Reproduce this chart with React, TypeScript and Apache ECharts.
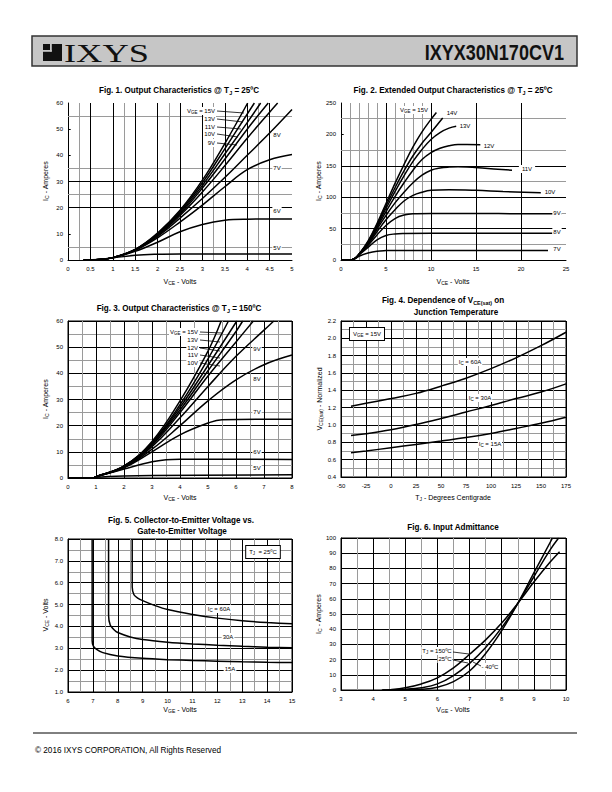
import React, { useEffect, useRef } from 'react';
import * as echarts from 'echarts';

// ---------- Fig. 1 : Output characteristics @ 25C (VCE V, IC A) ----------
const f1_15V = [[0.35,0],[0.7,0.2],[1,0.9],[1.5,4],[2,10.3],[2.5,19],[3,30.5],[3.5,44.5],[4.01,60]];
const f1_13V = [[0.35,0],[0.7,0.2],[1,0.9],[1.5,4],[2,10],[2.5,18.5],[3,29.5],[3.5,42.5],[4.16,60]];
const f1_11V = [[0.35,0],[0.7,0.2],[1,0.9],[1.5,4],[2,9.8],[2.5,18],[3,28.5],[3.5,40.5],[4,52.5],[4.3,60]];
const f1_10V = [[0.35,0],[0.7,0.2],[1,0.9],[1.5,3.9],[2,9.6],[2.5,17.5],[3,27.5],[3.5,38.5],[4,50],[4.47,60]];
const f1_9V = [[0.35,0],[0.7,0.2],[1,0.9],[1.5,3.9],[2,9.3],[2.5,17],[3,26],[3.5,36],[4,46.5],[4.5,56.5],[4.68,60]];
const f1_8V = [[0.35,0],[0.7,0.2],[1,0.9],[1.5,3.8],[2,9],[2.5,16],[3,23.5],[3.5,31.5],[4,40],[4.5,48.5],[5,57.5]];
const f1_7V = [[0.35,0],[0.7,0.2],[1,0.9],[1.5,3.7],[2,8.5],[2.5,14.5],[3,21],[3.5,28],[4,34.5],[4.5,38.3],[5,40.3]];
const f1_6V = [[0.35,0],[0.7,0.2],[1,0.9],[1.5,3.3],[2,6.8],[2.5,10.8],[3,13.6],[3.5,15.2],[4,15.6],[5,15.7]];
const f1_5V = [[0.35,0],[0.7,0.2],[1,0.8],[1.5,1.8],[2,2.2],[2.5,2.3],[5,2.3]];
// Fig. 1 grid lines as printed (partial grid)
const f1GridXMajor = [0.5, 1, 1.5, 2, 2.5, 3, 3.5, 4, 4.5];
const f1GridXMinor = [0.25, 1.25, 2.25, 3.25, 4.25];
const f1GridYMajor = [20, 30];
const f1GridYMinor = [5, 25, 35, 55];
const f1TickY = [10, 40, 50];

// ---------- Fig. 2 : Extended output characteristics @ 25C ----------
const f2_15V = [[0,0],[1.2,0.5],[1.6,3],[2,9],[3,30],[4,58],[5,90],[6,122],[7,152],[8,180],[9,204],[10,224],[10.6,235]];
const f2_14V = [[0,0],[1.2,0.5],[1.6,3],[2,9],[3,29],[4,56],[5,86],[6,115],[7,142],[8,166],[9,186],[10,203],[11.3,226]];
const f2_13V = [[0,0],[1.2,0.5],[1.6,3],[2,9],[3,28],[4,54],[5,82],[6,109],[7,134],[8,157],[9,176],[10,192],[11,203],[12,210],[12.8,213]];
const f2_12V = [[0,0],[1.2,0.5],[1.6,3],[2,9],[3,27],[4,52],[5,77],[6,101],[7,123],[8,143],[9,160],[10,171],[11,178],[12,182],[13,184],[14,184],[15.5,183.5]];
const f2_11V = [[0,0],[1.2,0.5],[1.6,3],[2,9],[3,26],[4,49],[5,71],[6,91],[7,108],[8,123],[9,135],[10,143],[11,146.5],[12,148],[13,148.5],[14,148],[16,146],[19,143]];
const f2_10V = [[0,0],[1.2,0.5],[1.6,3],[2,9],[3,25],[4,45],[5,64],[6,80],[7,94],[8,103],[9,108],[10,111],[12,112],[15,111],[18,109],[22.2,107]];
const f2_9V = [[0,0],[1.2,0.5],[1.6,3],[2,8.5],[3,23],[4,40],[5,55],[6,66],[7,71.5],[8,73.5],[10,74],[15,74],[20,73.7],[24.5,73.5]];
const f2_8V = [[0,0],[1.2,0.5],[1.6,3],[2,8],[3,20],[4,32],[5,39],[6,41.5],[7,42.2],[10,42.5],[23.5,42.5]];
const f2_7V = [[0,0],[1.2,0.5],[1.6,2.5],[2,6],[3,11],[4,14],[5,15],[6,15.3],[23,15.3]];
const f2GridXMajor = [5, 10, 15, 20];
const f2GridXMinor = [1, 2, 3, 4, 6, 7, 8, 9];
const f2GridYMajor = [50, 100, 150];
const f2GridYMinor = [25, 75, 125, 175, 225];
const f2TickY = [200];

// ---------- Fig. 3 : Output characteristics @ 150C ----------
const f3_15V = [[0,0],[0.9,0],[1,0.5],[2,4.6],[3,14],[4,29.5],[5,48.5],[5.47,60]];
const f3_13V = [[0,0],[0.9,0],[1,0.5],[2,4.5],[3,13.6],[4,28],[5,45.5],[5.73,60]];
const f3_12V = [[0,0],[0.9,0],[1,0.5],[2,4.5],[3,13.3],[4,27],[5,43],[6.03,60]];
const f3_11V = [[0,0],[0.9,0],[1,0.5],[2,4.4],[3,13],[4,26],[5,41],[6,56],[6.24,60]];
const f3_10V = [[0,0],[0.9,0],[1,0.5],[2,4.3],[3,12.5],[4,25],[5,39],[6,52],[6.62,60]];
const f3_9V = [[0,0],[0.9,0],[1,0.5],[2,4.2],[3,12],[4,23],[5,35],[6,46.5],[7,56.5],[7.35,60]];
const f3_8V = [[0,0],[0.9,0],[1,0.5],[2,4],[3,11],[4,20],[5,29.5],[6,37.5],[7,43.3],[8,47]];
const f3_7V = [[0,0],[0.9,0],[1,0.5],[2,3.9],[3,10],[4,16.5],[5,21],[5.5,22.3],[8,22.5]];
const f3_6V = [[0,0],[0.9,0],[1,0.5],[2,3.4],[3,6.2],[3.5,7],[4,7.2],[8,7.1]];
const f3_5V = [[0,0],[0.9,0],[1,0.3],[2,0.8],[3,1],[8,1.2]];

// ---------- Fig. 4 : VCE(sat) normalized vs TJ ----------
const f4_60A = [[-40,1.217],[-25,1.25],[0,1.306],[25,1.365],[50,1.448],[75,1.54],[100,1.65],[125,1.775],[150,1.915],[175,2.07]];
const f4_30A = [[-40,0.88],[-25,0.9],[0,0.945],[25,1.005],[50,1.075],[75,1.15],[100,1.225],[125,1.305],[150,1.38],[175,1.475]];
const f4_15A = [[-40,0.68],[-25,0.7],[0,0.738],[25,0.776],[50,0.815],[75,0.855],[100,0.903],[125,0.96],[150,1.02],[175,1.09]];

// ---------- Fig. 5 : VCE vs VGE ----------
const f5_60A = [[8.58,8],[8.58,5.8],[8.65,5.45],[8.8,5.3],[9,5.18],[9.5,4.95],[10,4.77],[11,4.55],[12,4.38],[13,4.26],[14,4.18],[15,4.12]];
const f5_30A = [[7.63,8],[7.63,4.5],[7.7,4.05],[7.85,3.85],[8,3.72],[8.5,3.52],[9,3.4],[10,3.28],[11,3.2],[12,3.14],[13,3.09],[14,3.05],[15,3.03]];
const f5_15A = [[6.97,8],[6.97,3.35],[7.02,3.1],[7.15,2.95],[7.4,2.8],[8,2.65],[9,2.54],[10,2.48],[11,2.44],[12,2.41],[13,2.38],[14,2.36],[15,2.35]];

// ---------- Fig. 6 : Input admittance (VGE V, IC A) ----------
const f6_150C = [[4.27,0],[4.5,0.2],[5,1.5],[5.5,4],[6,8],[6.5,14.5],[7,23.5],[7.5,33],[8,44],[8.5,57],[9,71],[9.5,84],[9.8,91]];
const f6_25C = [[4.3,0],[5,0.5],[5.5,1.5],[6,4],[6.5,9.5],[7,17.5],[7.5,28],[8,41],[8.5,57],[9,74.5],[9.5,92],[9.77,100]];
const f6_m40C = [[4.6,0],[5.5,0.5],[6,1.8],[6.5,5.5],[7,12.5],[7.5,24],[8,39],[8.5,57],[9,77],[9.58,100]];

// ---------- axis ranges ----------
const axisX = [
  { min: 0, max: 5, interval: 0.5, minor: 2 },
  { min: 0, max: 25, interval: 5, minor: 5 },
  { min: 0, max: 8, interval: 1, minor: 2 },
  { min: -50, max: 175, interval: 25, minor: 2 },
  { min: 6, max: 15, interval: 1, minor: 2 },
  { min: 3, max: 10, interval: 1, minor: 2 },
];
const axisY = [
  { min: 0, max: 60, interval: 10, minor: 2, dec: 0 },
  { min: 0, max: 250, interval: 50, minor: 2, dec: 0 },
  { min: 0, max: 60, interval: 10, minor: 2, dec: 0 },
  { min: 0.4, max: 2.2, interval: 0.2, minor: 2, dec: 1 },
  { min: 1, max: 8, interval: 1, minor: 2, dec: 1 },
  { min: 0, max: 100, interval: 10, minor: 1, dec: 0 },
];
const customGrid = [true, true, false, false, false, false];

const FONT = '"Liberation Sans", Arial, sans-serif';
const NARROW = '"Liberation Sans Narrow", "Arial Narrow", "Liberation Sans", sans-serif';
const MAJOR = '#000';
const MINOR = '#9a9a9a';

const grids = [
  { left: 68, top: 103, width: 224, height: 157 },
  { left: 341, top: 103, width: 225, height: 157 },
  { left: 68, top: 321, width: 224, height: 157 },
  { left: 341, top: 321, width: 225, height: 156 },
  { left: 68, top: 539, width: 224, height: 153 },
  { left: 341, top: 538, width: 225, height: 152 },
];

const richSmall = {
  n: { fontSize: 6, fontFamily: FONT, fill: '#000', lineHeight: 8 },
  s: { fontSize: 4.5, fontFamily: FONT, fill: '#000', lineHeight: 5, verticalAlign: 'bottom' },
};
const richAxis = {
  n: { fontSize: 7, fontFamily: FONT, fill: '#000', lineHeight: 9 },
  s: { fontSize: 5, fontFamily: FONT, fill: '#000', lineHeight: 5, verticalAlign: 'bottom' },
};
const richTitle = {
  b: { fontSize: 9, fontWeight: 'bold', fontFamily: NARROW, fill: '#000', lineHeight: 11 },
  s: { fontSize: 6, fontWeight: 'bold', fontFamily: NARROW, fill: '#000', lineHeight: 6, verticalAlign: 'bottom' },
};

function txt(x: number, y: number, text: string, rich: any, opts: any = {}) {
  return {
    type: 'text', x, y, z: 100, rotation: opts.rotation || 0, scaleX: opts.scaleX || 1,
    style: {
      text, rich, align: opts.align || 'center', verticalAlign: 'middle',
      backgroundColor: opts.bg, padding: opts.padding, borderColor: opts.border, borderWidth: opts.border ? 1 : 0,
    },
  };
}
function ln(x1: number, y1: number, x2: number, y2: number, w = 0.8) {
  return { type: 'line', z: 100, shape: { x1, y1, x2, y2 }, style: { stroke: '#000', lineWidth: w } };
}

function lineSeries(data: number[][], gi: number, smooth = 0.4) {
  return {
    type: 'line', xAxisIndex: gi, yAxisIndex: gi, data, smooth, showSymbol: false, symbol: 'none',
    lineStyle: { color: '#000', width: 1.5 }, silent: true, z: 3, clip: true,
  };
}

// printed grid drawn as mark lines through the axes' scales
function gridSeries(gi: number, xMaj: number[], xMin: number[], yMaj: number[], yMin: number[], ticks: number[], tickLen: number) {
  const ax = axisX[gi];
  const data: any[] = [
    ...xMin.map((v) => ({ xAxis: v, lineStyle: { color: MINOR, width: 1, type: 'solid' } })),
    ...yMin.map((v) => ({ yAxis: v, lineStyle: { color: MINOR, width: 1, type: 'solid' } })),
    ...xMaj.map((v) => ({ xAxis: v, lineStyle: { color: MAJOR, width: 1, type: 'solid' } })),
    ...yMaj.map((v) => ({ yAxis: v, lineStyle: { color: MAJOR, width: 1, type: 'solid' } })),
    ...ticks.map((v) => [
      { coord: [ax.min, v], lineStyle: { color: MAJOR, width: 1, type: 'solid' } },
      { coord: [ax.min + tickLen, v] },
    ]),
  ];
  return {
    type: 'line', xAxisIndex: gi, yAxisIndex: gi, data: [], silent: true, z: 1, showSymbol: false,
    markLine: { silent: true, z: 1, symbol: ['none', 'none'], label: { show: false }, animation: false, data },
  };
}

function makeAxis(a: any, gi: number, isY: boolean) {
  const full = !customGrid[gi];
  return {
    type: 'value', gridIndex: gi, min: a.min, max: a.max, interval: a.interval,
    axisLine: { show: true, onZero: false, lineStyle: { color: '#000', width: 1 } },
    axisTick: { show: false },
    minorTick: { show: false, splitNumber: a.minor },
    axisLabel: {
      fontSize: 6, fontFamily: FONT, color: '#000', margin: isY ? 5 : 6,
      showMinLabel: true, showMaxLabel: true, hideOverlap: false,
      formatter: (v: number) => (isY && a.dec ? v.toFixed(a.dec) : String(Math.round(v * 100) / 100)),
    },
    splitLine: { show: full, lineStyle: { color: MAJOR, width: 1 } },
    minorSplitLine: { show: full && a.minor > 1, lineStyle: { color: MINOR, width: 1 } },
  };
}

export default function App() {
  const ref = useRef<HTMLDivElement>(null);
  useEffect(() => {
    if (!ref.current) return;
    const chart = echarts.init(ref.current, undefined, { renderer: 'svg' });

    const series = [
      gridSeries(0, f1GridXMajor, f1GridXMinor, f1GridYMajor, f1GridYMinor, f1TickY, 0.06),
      gridSeries(1, f2GridXMajor, f2GridXMinor, f2GridYMajor, f2GridYMinor, f2TickY, 0.3),
      ...[f1_15V, f1_13V, f1_11V, f1_10V, f1_9V, f1_8V, f1_7V, f1_6V, f1_5V].map((d) => lineSeries(d, 0)),
      ...[f2_15V, f2_14V, f2_13V, f2_12V, f2_11V, f2_10V, f2_9V, f2_8V, f2_7V].map((d) => lineSeries(d, 1)),
      ...[f3_15V, f3_13V, f3_12V, f3_11V, f3_10V, f3_9V, f3_8V, f3_7V, f3_6V, f3_5V].map((d) => lineSeries(d, 2)),
      ...[f4_60A, f4_30A, f4_15A].map((d) => lineSeries(d, 3)),
      ...[f5_60A, f5_30A, f5_15A].map((d) => lineSeries(d, 4, 0.2)),
      ...[f6_150C, f6_25C, f6_m40C].map((d) => lineSeries(d, 5)),
    ];

    const W = { bg: '#fff', padding: [0, 1] };
    const T = { scaleX: 0.9 };
    const graphic: any[] = [
      // header
      { type: 'rect', z: 50, shape: { x: 32, y: 36, width: 545, height: 30 }, style: { fill: '#c6c6c6', stroke: '#333', lineWidth: 1.5 } },
      { type: 'rect', z: 51, shape: { x: 43, y: 44, width: 19, height: 17 }, style: { fill: '#111' } },
      { type: 'rect', z: 52, shape: { x: 50, y: 44, width: 1.8, height: 7.5 }, style: { fill: '#c6c6c6' } },
      { type: 'rect', z: 52, shape: { x: 43, y: 50, width: 8.8, height: 1.8 }, style: { fill: '#c6c6c6' } },
      { type: 'text', z: 52, x: 64, y: 53, scaleX: 1.4, style: { text: 'IXYS', fontSize: 26, fontFamily: '"Liberation Serif", "Times New Roman", serif', fill: '#111', verticalAlign: 'middle' } },
      { type: 'text', z: 52, x: 564, y: 52, scaleX: 0.82, style: { text: 'IXYX30N170CV1', fontSize: 22, fontWeight: 'bold', fontFamily: NARROW, fill: '#111', align: 'right', verticalAlign: 'middle' } },
      // footer
      ln(33, 733, 577, 733, 1),
      { type: 'text', z: 52, x: 35, y: 750, style: { text: '© 2016 IXYS CORPORATION, All Rights Reserved', fontSize: 8.2, fontFamily: FONT, fill: '#000', verticalAlign: 'middle' } },

      // titles
      txt(179, 90, '{b|Fig. 1. Output Characteristics @ T}{s|J}{b| = 25ºC}', richTitle, T),
      txt(453, 90, '{b|Fig. 2. Extended Output Characteristics @ T}{s|J}{b| = 25ºC}', richTitle, T),
      txt(179, 308, '{b|Fig. 3. Output Characteristics @ T}{s|J}{b| = 150ºC}', richTitle, T),
      txt(443, 300, '{b|Fig. 4. Dependence of V}{s|CE(sat)}{b| on}', richTitle, T),
      txt(456, 312, '{b|Junction Temperature}', richTitle, T),
      txt(181, 520, '{b|Fig. 5. Collector-to-Emitter Voltage vs.}', richTitle, T),
      txt(182, 531, '{b|Gate-to-Emitter Voltage}', richTitle, T),
      txt(453, 527, '{b|Fig. 6. Input Admittance}', richTitle, T),

      // axis names
      txt(45, 181, '{n|I}{s|C}{n| - Amperes}', richAxis, { rotation: Math.PI / 2 }),
      txt(180, 281, '{n|V}{s|CE}{n| - Volts}', richAxis),
      txt(318, 181, '{n|I}{s|C}{n| - Amperes}', richAxis, { rotation: Math.PI / 2 }),
      txt(453, 281, '{n|V}{s|CE}{n| - Volts}', richAxis),
      txt(45, 399, '{n|I}{s|C}{n| - Amperes}', richAxis, { rotation: Math.PI / 2 }),
      txt(180, 497, '{n|V}{s|CE}{n| - Volts}', richAxis),
      txt(319, 399, '{n|V}{s|CE(sat)}{n| - Normalized}', richAxis, { rotation: Math.PI / 2 }),
      txt(453, 497, '{n|T}{s|J}{n| - Degrees Centigrade}', richAxis),
      txt(45, 615, '{n|V}{s|CE}{n| - Volts}', richAxis, { rotation: Math.PI / 2 }),
      txt(180, 709, '{n|V}{s|GE}{n| - Volts}', richAxis),
      txt(318, 614, '{n|I}{s|C}{n| - Amperes}', richAxis, { rotation: Math.PI / 2 }),
      txt(453, 709, '{n|V}{s|GE}{n| - Volts}', richAxis),

      // Fig 1 labels
      txt(216, 111, '{n|V}{s|GE}{n| = 15V}', richSmall, { align: 'right', ...W }),
      txt(216, 119, '{n|13V}', richSmall, { align: 'right', ...W }),
      txt(216, 127, '{n|11V}', richSmall, { align: 'right', ...W }),
      txt(216, 134, '{n|10V}', richSmall, { align: 'right', ...W }),
      txt(216, 143, '{n|9V}', richSmall, { align: 'right', ...W }),
      ln(217, 111, 244, 113), ln(217, 119, 243, 122), ln(217, 127, 241, 129), ln(217, 134, 238, 137), ln(217, 143, 237, 145),
      txt(277, 135, '{n|8V}', richSmall, W),
      txt(277, 168, '{n|7V}', richSmall, W),
      txt(277, 211, '{n|6V}', richSmall, W),
      txt(277, 248, '{n|5V}', richSmall, W),

      // Fig 2 labels
      txt(414, 110, '{n|V}{s|GE}{n| = 15V}', richSmall, W),
      txt(452, 113, '{n|14V}', richSmall, W),
      txt(465, 126, '{n|13V}', richSmall, W),
      txt(489, 146, '{n|12V}', richSmall, { bg: '#fff', padding: [0, 3] }),
      txt(527, 169, '{n|11V}', richSmall, { bg: '#fff', padding: [0, 3] }),
      txt(550, 192, '{n|10V}', richSmall, { bg: '#fff', padding: [0, 3] }),
      txt(557, 213, '{n|9V}', richSmall, W),
      txt(557, 232, '{n|8V}', richSmall, W),
      txt(557, 249, '{n|7V}', richSmall, W),

      // Fig 3 labels
      txt(199, 332, '{n|V}{s|GE}{n| = 15V}', richSmall, { align: 'right', ...W }),
      txt(199, 340, '{n|13V}', richSmall, { align: 'right', ...W }),
      txt(199, 348, '{n|12V}', richSmall, { align: 'right', ...W }),
      txt(199, 355, '{n|11V}', richSmall, { align: 'right', ...W }),
      txt(199, 363, '{n|10V}', richSmall, { align: 'right', ...W }),
      ln(200, 332, 222, 333), ln(200, 340, 220, 342), ln(200, 348, 220, 351), ln(200, 355, 220, 358), ln(200, 363, 220, 366),
      txt(257, 349, '{n|9V}', richSmall, W),
      txt(257, 379, '{n|8V}', richSmall, W),
      txt(257, 412, '{n|7V}', richSmall, W),
      txt(257, 452, '{n|6V}', richSmall, W),
      txt(257, 468, '{n|5V}', richSmall, W),

      // Fig 4 labels
      txt(367, 334, '{n|V}{s|GE}{n| = 15V}', richSmall, { bg: '#fff', padding: [2, 3], border: '#000' }),
      txt(470, 362, '{n|I}{s|C}{n| = 60A}', richSmall, W),
      txt(480, 398, '{n|I}{s|C}{n| = 30A}', richSmall, W),
      txt(490, 444, '{n|I}{s|C}{n| = 15A}', richSmall, W),

      // Fig 5 labels
      txt(263, 552, '{n|T}{s|J}{n|  = 25ºC}', richSmall, { bg: '#fff', padding: [2, 3], border: '#000' }),
      txt(219, 609, '{n|I}{s|C}{n| = 60A}', richSmall, W),
      txt(228, 637, '{n|30A}', richSmall, W),
      txt(230, 669, '{n|15A}', richSmall, W),

      // Fig 6 labels
      txt(437, 651, '{n|T}{s|J}{n| = 150ºC}', richSmall, W),
      txt(445, 659, '{n|25ºC}', richSmall, W),
      txt(490, 667, '{n|- 40ºC}', richSmall, W),
      ln(453, 652, 469, 654), ln(453, 660, 468, 663), ln(481, 666, 473, 662),
    ];

    chart.setOption({
      animation: false,
      backgroundColor: '#fff',
      grid: grids.map((g, i) => ({ ...g, show: !customGrid[i], borderColor: '#000', borderWidth: 1, containLabel: false, outerBoundsMode: 'none' })),
      xAxis: axisX.map((a, i) => makeAxis(a, i, false)),
      yAxis: axisY.map((a, i) => makeAxis(a, i, true)),
      series,
      graphic,
    });
    return () => chart.dispose();
  }, []);
  return <div ref={ref} style={{ position: 'absolute', left: 0, top: 0, width: 612, height: 792 }} />;
}
